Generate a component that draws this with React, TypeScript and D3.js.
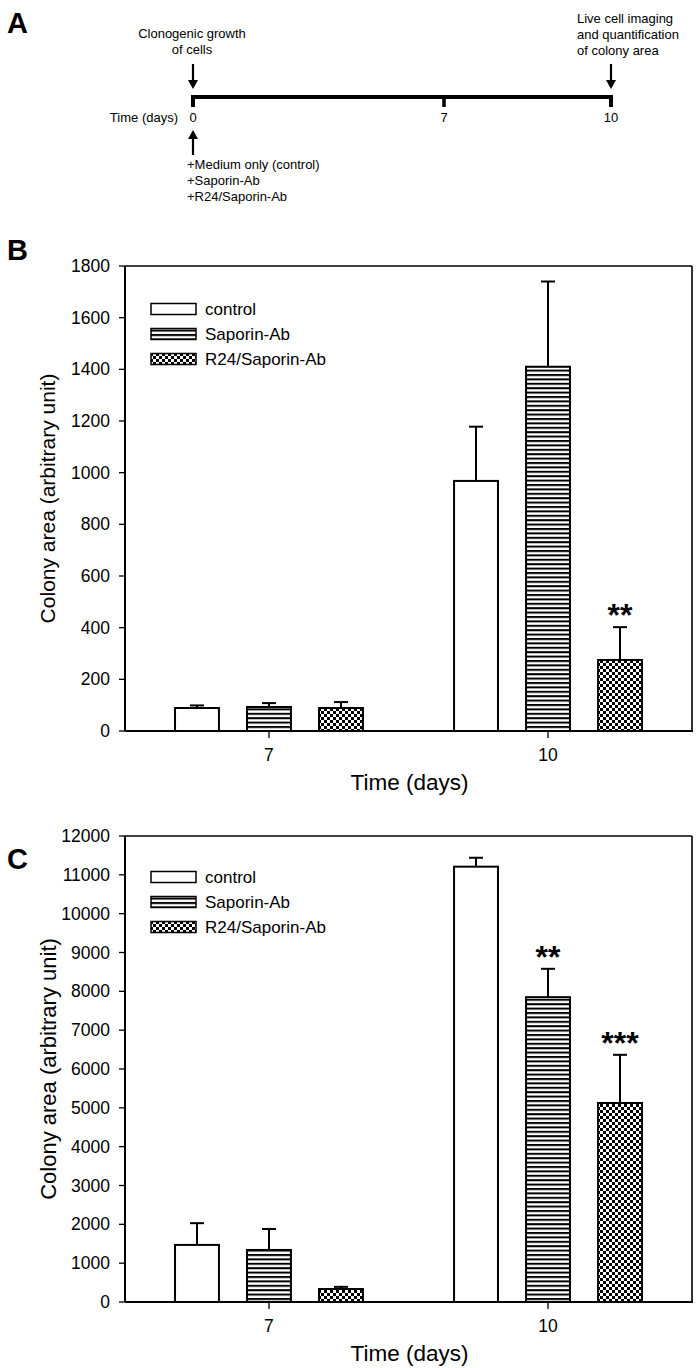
import * as d3 from 'd3';

const FONT = "'Liberation Sans', Arial, Helvetica, sans-serif";

// categories
const days = ['7', '10'];
const series = ['control', 'Saporin-Ab', 'R24/Saporin-Ab'];
const fills = ['white', 'url(#hatchH)', 'url(#checker)'];

// panel B: colony area, per series, per day (7, 10)
const bControl = [89, 968];
const bSaporin = [93, 1410];
const bR24 = [89, 275];
const bControlErr = [10, 210];
const bSaporinErr = [15, 330];
const bR24Err = [23, 127];
const bControlStars = ['', ''];
const bSaporinStars = ['', ''];
const bR24Stars = ['', '**'];

// panel C
const cControl = [1470, 11210];
const cSaporin = [1340, 7850];
const cR24 = [335, 5125];
const cControlErr = [560, 230];
const cSaporinErr = [540, 730];
const cR24Err = [55, 1240];
const cControlStars = ['', ''];
const cSaporinStars = ['', '**'];
const cR24Stars = ['', '***'];

// panel A timeline
const timeDays = [0, 7, 10];
const startNotes = ['+Medium only (control)', '+Saporin-Ab', '+R24/Saporin-Ab'];
const startLabel = ['Clonogenic growth', 'of cells'];
const endLabel = ['Live cell imaging', 'and quantification', 'of colony area'];

const X0 = 125;
const X1 = 692;

interface PanelProps {
  top: number;
  bottom: number;
  yMax: number;
  yStep: number;
  means: number[][];
  errs: number[][];
  stars: string[][];
  legendY: number;
  titleSize: number;
}

function BarPanel({ top, bottom, yMax, yStep, means, errs, stars, legendY, titleSize }: PanelProps) {
  const y = d3.scaleLinear().domain([0, yMax]).range([bottom, top]);
  const x = d3.scalePoint<string>().domain(days).range([X0, X1]).padding(0.516);
  const inner = d3.scaleBand<string>().domain(series).range([-108, 108]).paddingInner(0.39).paddingOuter(0.195);
  const ticks = d3.range(0, yMax + 1, yStep);
  const bw = inner.bandwidth();

  return (
    <g fontFamily={FONT}>
      {/* frame */}
      <line x1={X0} x2={X1} y1={top} y2={top} stroke="black" strokeWidth={1.6} />
      <line x1={X1} x2={X1} y1={top} y2={bottom} stroke="black" strokeWidth={1.6} />

      {/* bars */}
      {series.map((s, si) =>
        days.map((d, di) => {
          const cx = (x(d) as number) + (inner(s) as number) + bw / 2;
          const v = means[si][di];
          const cap = y(v + errs[si][di]);
          return (
            <g key={s + d}>
              <line x1={cx} x2={cx} y1={y(v)} y2={cap} stroke="black" strokeWidth={2} />
              <line x1={cx - 7} x2={cx + 7} y1={cap} y2={cap} stroke="black" strokeWidth={2} />
              <rect x={cx - bw / 2} y={y(v)} width={bw} height={bottom - y(v)}
                fill={fills[si]} stroke="black" strokeWidth={2} />
              {stars[si][di] && (
                <text x={cx} y={cap - 1} textAnchor="middle" fontSize={32} fontWeight="bold">
                  {stars[si][di]}
                </text>
              )}
            </g>
          );
        })
      )}

      {/* y axis */}
      <line x1={X0} x2={X0} y1={top} y2={bottom} stroke="black" strokeWidth={2} />
      {ticks.map(t => (
        <g key={t}>
          <line x1={X0 - 6} x2={X0} y1={y(t)} y2={y(t)} stroke="black" strokeWidth={1.3} />
          <text x={X0 - 15} y={y(t)} dy="0.35em" textAnchor="end" fontSize={17.5}>{t}</text>
        </g>
      ))}
      <text transform={`translate(48,${(top + bottom) / 2}) rotate(-90)`} textAnchor="middle"
        dy="0.35em" fontSize={titleSize}>Colony area (arbitrary unit)</text>

      {/* x axis */}
      <line x1={X0} x2={X1 + 1} y1={bottom} y2={bottom} stroke="black" strokeWidth={2} />
      {days.map(d => (
        <g key={d}>
          <line x1={x(d)} x2={x(d)} y1={bottom} y2={bottom + 7} stroke="black" strokeWidth={1.3} />
          <text x={x(d)} y={bottom + 24} dy="0.35em" textAnchor="middle" fontSize={17.5}>{d}</text>
        </g>
      ))}
      <text x={(X0 + X1) / 2 + 1} y={bottom + 51} dy="0.35em" textAnchor="middle" fontSize={22.5}>
        Time (days)
      </text>

      {/* legend */}
      {series.map((s, i) => (
        <g key={s} transform={`translate(0,${legendY + i * 25})`}>
          <rect x={151} y={-5.5} width={45} height={11} fill={fills[i]} stroke="black" strokeWidth={1.5} />
          <text x={205} y={0} dy="0.35em" fontSize={17}>{s}</text>
        </g>
      ))}
    </g>
  );
}

function Arrow({ x, from, to }: { x: number; from: number; to: number }) {
  const dir = to > from ? 1 : -1;
  return (
    <g>
      <line x1={x} x2={x} y1={from} y2={to - dir * 6} stroke="black" strokeWidth={2.2} />
      <path d={`M${x - 5},${to - dir * 9}L${x + 5},${to - dir * 9}L${x},${to}Z`} fill="black" />
    </g>
  );
}

function Timeline() {
  const t = d3.scaleLinear().domain(timeDays).range([193, 444, 611]);
  const lineY = 97;
  return (
    <g fontFamily={FONT} fontSize={13}>
      <path d={`M${t(0)},${lineY + 10}V${lineY}H${t(10)}V${lineY + 10}`} fill="none" stroke="black"
        strokeWidth={4} strokeLinejoin="miter" />
      <line x1={t(7)} x2={t(7)} y1={lineY} y2={lineY + 10} stroke="black" strokeWidth={3.5} />
      {timeDays.map(d => (
        <text key={d} x={t(d)} y={117} dy="0.35em" textAnchor="middle">{d}</text>
      ))}
      <text x={178} y={117} dy="0.35em" textAnchor="end">Time (days)</text>

      {startLabel.map((s, i) => (
        <text key={s} x={192} y={33 + i * 16} dy="0.35em" textAnchor="middle">{s}</text>
      ))}
      <Arrow x={t(0)} from={64} to={89} />

      {endLabel.map((s, i) => (
        <text key={s} x={577} y={18 + i * 16} dy="0.35em">{s}</text>
      ))}
      <Arrow x={t(10)} from={64} to={89} />

      <Arrow x={t(0)} from={155} to={130} />
      {startNotes.map((s, i) => (
        <text key={s} x={187} y={164 + i * 16} dy="0.35em">{s}</text>
      ))}
    </g>
  );
}

export default function App() {
  return (
    <svg width={700} height={1368} viewBox="0 0 700 1368"
      style={{ position: 'absolute', left: 0, top: 0, background: 'white' }}>
      <defs>
        <pattern id="hatchH" patternUnits="userSpaceOnUse" width={8} height={4.4}>
          <rect width={8} height={4.4} fill="white" />
          <rect width={8} height={2} fill="black" />
        </pattern>
        <pattern id="checker" patternUnits="userSpaceOnUse" width={6} height={6}>
          <rect width={6} height={6} fill="white" />
          <rect width={3} height={3} fill="black" />
          <rect x={3} y={3} width={3} height={3} fill="black" />
        </pattern>
      </defs>
      <rect width={700} height={1368} fill="white" />

      <g fontFamily={FONT} fontWeight="bold" fontSize={29}>
        <text x={7} y={33}>A</text>
        <text x={7} y={260}>B</text>
        <text x={7} y={869}>C</text>
      </g>

      <Timeline />

      <BarPanel top={266} bottom={731} yMax={1800} yStep={200}
        means={[bControl, bSaporin, bR24]} errs={[bControlErr, bSaporinErr, bR24Err]}
        stars={[bControlStars, bSaporinStars, bR24Stars]} legendY={309} titleSize={21} />

      <BarPanel top={836} bottom={1302} yMax={12000} yStep={1000}
        means={[cControl, cSaporin, cR24]} errs={[cControlErr, cSaporinErr, cR24Err]}
        stars={[cControlStars, cSaporinStars, cR24Stars]} legendY={877} titleSize={22} />
    </svg>
  );
}
